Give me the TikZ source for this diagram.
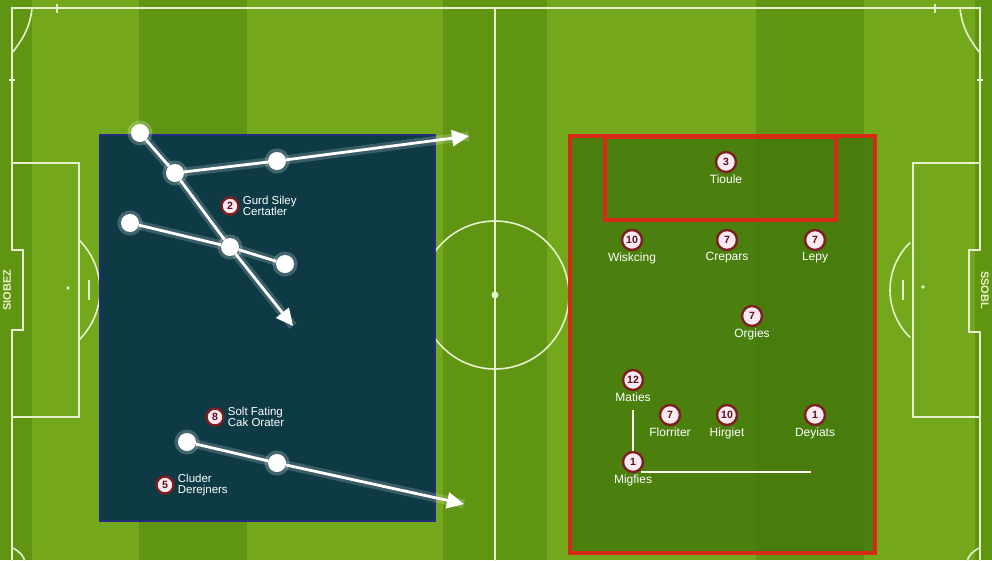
\documentclass[tikz,border=0pt]{standalone}
\usepackage{fontspec}
\setmainfont{Liberation Sans}
\usetikzlibrary{arrows.meta,positioning}
\definecolor{fieldL}{HTML}{74A81C}
\definecolor{fieldD}{HTML}{609513}
\definecolor{linec}{HTML}{E6F2CC}
\definecolor{leftfill}{HTML}{0E3A45}
\definecolor{leftborder}{HTML}{262B80}
\definecolor{rightfill}{HTML}{44790C}
\definecolor{redc}{HTML}{D62A16}
\definecolor{badgefill}{HTML}{F8EAEE}
\definecolor{badgering}{HTML}{7D1F22}
\definecolor{badgetext}{HTML}{5A1024}
\begin{document}
\begin{tikzpicture}[x=1pt,y=-1pt,
  pitch/.style={draw=linec,line width=1.6},
  pass/.style={draw=white,line width=2.8,
    preaction={draw=white,draw opacity=0.18,line width=9,arrows=-}},
  passarrow/.style={pass,-{Triangle[length=17pt,width=16pt]}},
  dot/.style={circle,fill=white,minimum size=18pt,inner sep=0pt,
    preaction={draw=white,draw opacity=0.22,line width=7}},
  badge/.style={circle,fill=badgefill,draw=badgering,line width=2.4,
    minimum size=20pt,inner sep=0pt,text=badgetext,
    font=\fontsize{10.5}{11}\selectfont\bfseries},
  sbadge/.style={badge,minimum size=17pt},
  lbltxt/.style={text=white,align=left,inner sep=1pt,
    font=\fontsize{11.5}{11}\selectfont},
  plbl/.style={text=white,inner sep=1pt,
    font=\fontsize{12}{12}\selectfont},
  sidetxt/.style={text=linec,inner sep=0pt,
    font=\fontsize{11}{11}\selectfont\bfseries}
]
\useasboundingbox (0,0) rectangle (992,560);
% stripes
\fill[fieldD] (0,0) rectangle (32,560);
\fill[fieldL] (32,0) rectangle (139,560);
\fill[fieldD] (139,0) rectangle (247,560);
\fill[fieldL] (247,0) rectangle (443,560);
\fill[fieldD] (443,0) rectangle (547,560);
\fill[fieldL] (547,0) rectangle (756,560);
\fill[fieldD] (756,0) rectangle (864,560);
\fill[fieldL] (864,0) rectangle (975,560);
\fill[fieldD] (975,0) rectangle (992,560);
% pitch lines
\draw[pitch] (12,562) -- (12,330) -- (23,330) -- (23,250) -- (12,250) -- (12,8)
  -- (980,8) -- (980,250) -- (969,250) -- (969,332) -- (980,332) -- (980,562);
\draw[pitch] (495,8) -- (495,562);
\draw[pitch] (495,295) circle[radius=74];
\fill[linec] (495,295) circle[radius=3.5];
\draw[pitch] (32,8) .. controls (30,30) and (20,42) .. (13,52);
\draw[pitch] (960,8) .. controls (962,30) and (972,42) .. (979,52);
\draw[pitch] (57,4) -- (57,13);
\draw[pitch] (935,4) -- (935,13);
\draw[pitch] (9,80) -- (15,80);
\draw[pitch] (977,80) -- (983,80);
\draw[pitch] (13,548) .. controls (20,552) and (24,556) .. (25,562);
\draw[pitch] (979,548) .. controls (972,552) and (968,556) .. (967,562);
% penalty areas
\draw[pitch] (12,163) -- (79,163) -- (79,417) -- (12,417);
\draw[pitch] (980,163) -- (913,163) -- (913,417) -- (980,417);
\draw[pitch] (30,290) ++(-45.6:70) arc[start angle=-45.6,end angle=45.6,radius=70];
\draw[pitch] (956,290) ++(134:66) arc[start angle=134,end angle=226,radius=66];
\draw[pitch] (89,280) -- (89,300);
\draw[pitch] (903,280) -- (903,300);
\fill[linec] (68,288) circle[radius=1.8];
\fill[linec] (923,287) circle[radius=1.8];
\node[sidetxt,rotate=90] (sl) at (7,290) {SIOBEZ};
\node[sidetxt,rotate=-90] (sr) at (985,290) {SSOBL};
% left tactical box
\draw[fill=leftfill,draw=leftborder,line width=2.8] (100,135) rectangle (435,521);
\node[dot] (A) at (140,133) {};
\node[dot] (B) at (175,173) {};
\node[dot] (C) at (277,161) {};
\node[dot] (D) at (130,223) {};
\node[dot] (E) at (230,247) {};
\node[dot] (F) at (285,264) {};
\node[dot] (G) at (187,442) {};
\node[dot] (H) at (277,463) {};
\coordinate (a1) at (469,136);
\coordinate (a2) at (293,326);
\coordinate (a3) at (464,504);
\draw[pass] (A) -- (B);
\draw[pass] (B) -- (E);
\draw[passarrow] (E) -- (a2);
\draw[pass] (B) -- (C);
\draw[passarrow] (C) -- (a1);
\draw[pass] (D) -- (E);
\draw[pass] (E) -- (F);
\draw[pass] (G) -- (H);
\draw[passarrow] (H) -- (a3);
\node[sbadge] (b2) at (230,206) {2};
\node[lbltxt,anchor=west] (t2) at ([xshift=2pt]b2.east) {Gurd Siley\\Certatler};
\node[sbadge] (b8) at (215,417) {8};
\node[lbltxt,anchor=west] (t8) at ([xshift=2pt]b8.east) {Solt Fating\\Cak Orater};
\node[sbadge] (b5) at (165,485) {5};
\node[lbltxt,anchor=west] (t5) at ([xshift=2pt]b5.east) {Cluder\\Derejners};
% right tactical box
\draw[fill=rightfill,fill opacity=0.85,draw=redc,line width=3.5] (570,136) rectangle (875,553);
\draw[draw=redc,line width=3.5] (605,137) rectangle (836,220);
\node[badge] (p1) at (726,162) {3};
\node[plbl,below=0pt of p1] (l1) {Tioule};
\node[badge] (p2) at (632,240) {10};
\node[plbl,below=0pt of p2] (l2) {Wiskcing};
\node[badge] (p3) at (727,240) {7};
\node[plbl,below=0pt of p3] (l3) {Crepars};
\node[badge] (p4) at (815,240) {7};
\node[plbl,below=0pt of p4] (l4) {Lepy};
\node[badge] (p5) at (752,316) {7};
\node[plbl,below=0pt of p5] (l5) {Orgies};
\node[badge] (p6) at (633,380) {12};
\node[plbl,below=0pt of p6] (l6) {Maties};
\node[badge] (p7) at (670,415) {7};
\node[plbl,below=0pt of p7] (l7) {Florriter};
\node[badge] (p8) at (727,415) {10};
\node[plbl,below=0pt of p8] (l8) {Hirgiet};
\node[badge] (p9) at (815,415) {1};
\node[plbl,below=0pt of p9] (l9) {Deyiats};
\node[badge] (p10) at (633,462) {1};
\node[plbl,below=0pt of p10] (l10) {Migfies};
\coordinate (m1) at (633,410);
\coordinate (m2) at (811,472);
\draw[draw=white!92!yellow,line width=2.6] (m1) -- (p10.north);
\draw[draw=white!92!yellow,line width=2.6] (p10.south east |- m2) -- (m2);
\end{tikzpicture}
\end{document}
